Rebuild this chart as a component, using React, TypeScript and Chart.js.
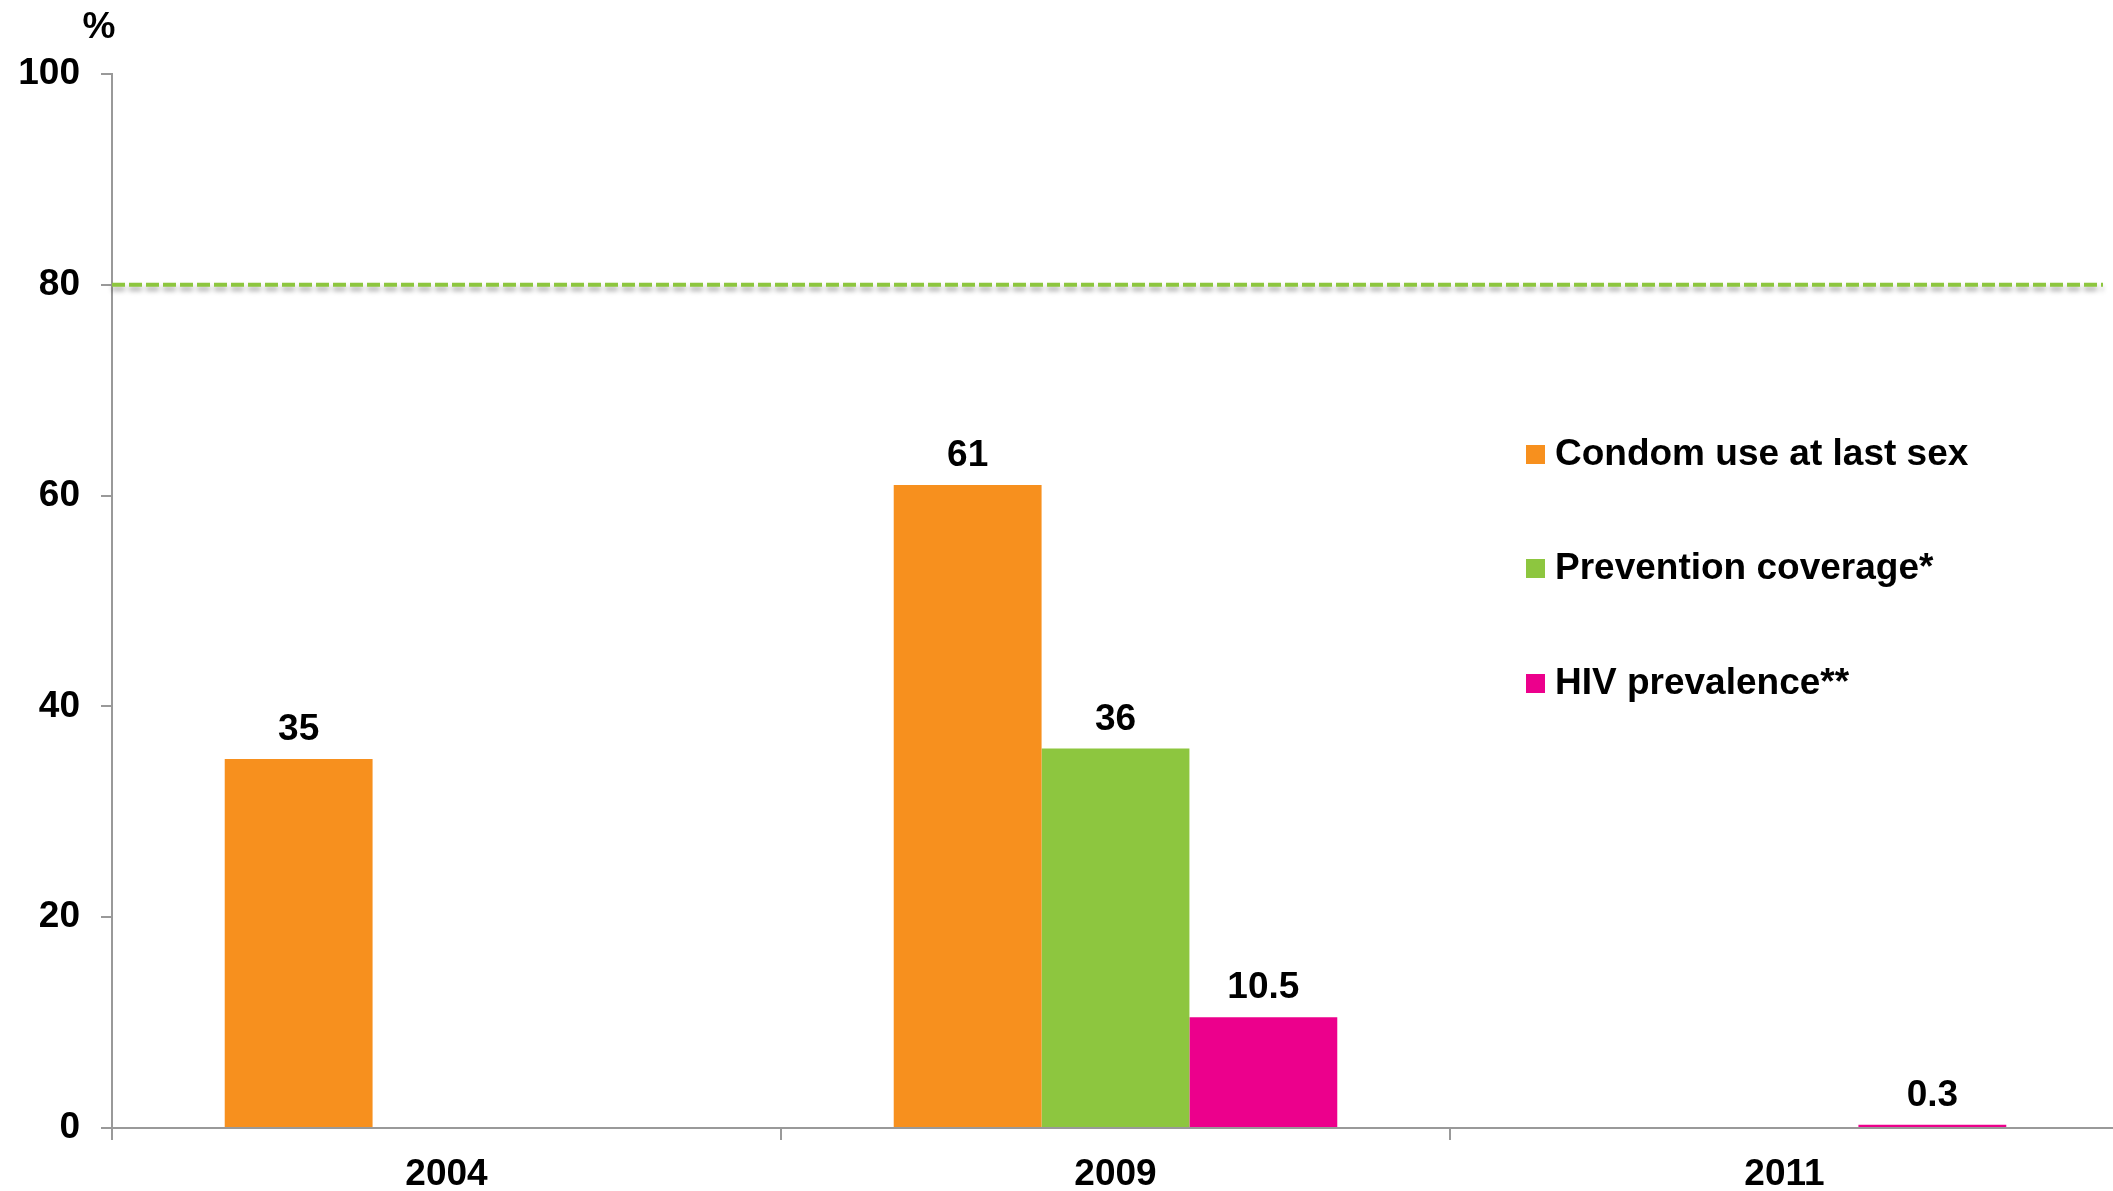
import React, { useEffect, useRef } from "react";
import { Chart, registerables } from "chart.js";

Chart.register(...registerables);

const categories = ["2004", "2009", "2011"];
const seriesNames = ["Condom use at last sex", "Prevention coverage*", "HIV prevalence**"];
const condomUse = [35, 61, null];
const preventionCoverage = [null, 36, null];
const hivPrevalence = [null, 10.5, 0.3];
const seriesColors = ["#F7901E", "#8DC63F", "#EC008C"];
const yMin = 0;
const yMax = 100;
const yStep = 20;
const targetValue = 80;
const yUnit = "%";

const FONT = "'Liberation Sans', Arial, sans-serif";
const AXIS_COLOR = "#999999";
const CANVAS_W = 2120;
const CANVAS_H = 1191;

const overlayPlugin = {
  id: "overlay",
  afterDatasetsDraw(chart: any) {
    const ctx = chart.ctx;
    const area = chart.chartArea;
    const yScale = chart.scales.y;

    // target dashed line
    const ty = yScale.getPixelForValue(targetValue);
    ctx.save();
    ctx.strokeStyle = "#8DC63F";
    ctx.lineWidth = 4;
    ctx.setLineDash([13, 4]);
    ctx.shadowColor = "rgba(0,0,0,0.35)";
    ctx.shadowBlur = 5;
    ctx.shadowOffsetY = 4;
    ctx.beginPath();
    ctx.moveTo(area.left, ty);
    ctx.lineTo(2103, ty);
    ctx.stroke();
    ctx.restore();

    // value labels
    ctx.save();
    ctx.font = `bold 37px ${FONT}`;
    ctx.fillStyle = "#000000";
    ctx.textAlign = "center";
    ctx.textBaseline = "alphabetic";
    chart.data.datasets.forEach((ds: any, di: number) => {
      const meta = chart.getDatasetMeta(di);
      meta.data.forEach((bar: any, i: number) => {
        const v = ds.data[i];
        if (v === null || v === undefined) return;
        ctx.fillText(String(v), bar.x, bar.y - 19);
      });
    });
    ctx.restore();

    // legend
    ctx.save();
    ctx.font = `bold 37px ${FONT}`;
    ctx.textBaseline = "middle";
    ctx.textAlign = "left";
    const lx = 1526;
    const rows = [454, 568, 683];
    chart.data.datasets.forEach((ds: any, di: number) => {
      const cy = rows[di];
      ctx.fillStyle = ds.backgroundColor;
      ctx.fillRect(lx, cy - 9, 19, 19);
      ctx.fillStyle = "#000000";
      ctx.fillText(ds.label, lx + 29, cy + 1);
    });
    ctx.restore();

    // unit label
    ctx.save();
    ctx.font = `bold 37px ${FONT}`;
    ctx.fillStyle = "#000000";
    ctx.textAlign = "center";
    ctx.textBaseline = "middle";
    ctx.fillText(yUnit, 99, 28);
    ctx.restore();
  },
};

export default function App() {
  const canvasRef = useRef<HTMLCanvasElement | null>(null);

  useEffect(() => {
    document.body.style.margin = "0";
    document.body.style.overflow = "hidden";
    const canvas = canvasRef.current;
    if (!canvas) return;
    const seriesData = [condomUse, preventionCoverage, hivPrevalence];
    const chart = new Chart(canvas, {
      type: "bar",
      data: {
        labels: categories,
        datasets: seriesNames.map((name, i) => ({
          label: name,
          data: seriesData[i] as any,
          backgroundColor: seriesColors[i],
          borderWidth: 0,
          barPercentage: 1,
          categoryPercentage: 0.663,
        })),
      },
      options: {
        responsive: false,
        animation: false,
        devicePixelRatio: 1,
        layout: { padding: { top: 74, right: 1, left: 0, bottom: 0 } },
        plugins: {
          legend: { display: false },
          tooltip: { enabled: false },
        },
        scales: {
          x: {
            offset: true,
            grid: {
              offset: true,
              drawOnChartArea: false,
              drawTicks: true,
              tickLength: 12,
              color: AXIS_COLOR,
              lineWidth: 2,
            },
            border: { color: AXIS_COLOR, width: 2 },
            ticks: {
              color: "#000000",
              font: { family: FONT, size: 37, weight: "bold" },
              padding: 13,
              maxRotation: 0,
            },
            afterFit(scale: any) {
              scale.height = 63;
            },
          },
          y: {
            min: yMin,
            max: yMax,
            grid: {
              drawOnChartArea: false,
              drawTicks: true,
              tickLength: 11,
              color: AXIS_COLOR,
              lineWidth: 2,
            },
            border: { color: AXIS_COLOR, width: 2 },
            ticks: {
              stepSize: yStep,
              color: "#000000",
              font: { family: FONT, size: 37, weight: "bold" },
              padding: 21,
            },
            afterFit(scale: any) {
              scale.width = 112;
            },
          },
        },
      },
      plugins: [overlayPlugin],
    });
    return () => chart.destroy();
  }, []);

  return (
    <div style={{ position: "fixed", left: 0, top: 0, width: CANVAS_W, height: CANVAS_H, background: "#ffffff" }}>
      <canvas ref={canvasRef} width={CANVAS_W} height={CANVAS_H} style={{ display: "block", width: CANVAS_W, height: CANVAS_H }} />
    </div>
  );
}
